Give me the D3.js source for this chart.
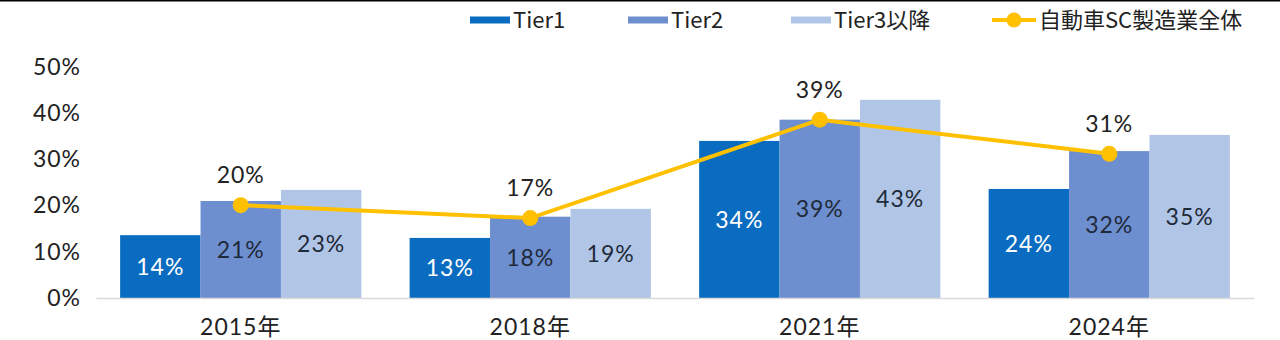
<!DOCTYPE html>
<html><head><meta charset="utf-8">
<script src="https://cdn.jsdelivr.net/npm/d3@7"></script>
<style>
html,body{margin:0;padding:0;background:#fff;}
svg{display:block;font-family:"Noto Sans CJK JP","Noto Sans",sans-serif;}
</style></head>
<body><svg id="c" width="1280" height="340"></svg>
<script>
const categories = ["2015年","2018年","2021年","2024年"];
const seriesNames = ["Tier1","Tier2","Tier3以降"];
const tier1 = [13.6, 13.0, 34.0, 23.6];
const tier2 = [21.0, 17.6, 38.6, 31.8];
const tier3 = [23.4, 19.3, 42.9, 35.3];
const lineName = "自動車SC製造業全体";
const total = [20.1, 17.3, 38.6, 31.2];
const yTicks = [0, 10, 20, 30, 40, 50];

const colors = ["#0A6CC0", "#6E8FCF", "#B1C6E6"];
const labelColors = ["#ffffff", "#1f2a3a", "#1f2a3a"];
const lineColor = "#FFC000";
const series = [tier1, tier2, tier3];
const numFont = "Lato, 'Noto Sans', sans-serif";
const numSize = 23;

const svg = d3.select("#c");
svg.append("line").attr("x1",0).attr("x2",1280).attr("y1",0.75).attr("y2",0.75)
  .attr("stroke","#000").attr("stroke-width",1.5);

const x = d3.scaleBand().domain(categories).range([96, 1254]).paddingInner(0.1667).paddingOuter(0.0833);
const xs = d3.scaleBand().domain(seriesNames).range([0, x.bandwidth()]);
const y = d3.scaleLinear().domain([0, 50]).range([298, 67]);

// y-axis labels
const yAxis = d3.axisLeft(y).tickValues(yTicks).tickFormat(d => d + "%").tickSize(0).tickPadding(0);
const ya = svg.append("g").attr("transform","translate(81,0)").call(yAxis);
ya.select(".domain").remove();
ya.selectAll("text").attr("font-size",numSize).attr("fill","#222").attr("letter-spacing","1px")
  .attr("font-family",numFont);

// bars
series.forEach((vals, si) => {
  const g = svg.append("g");
  g.selectAll("rect").data(vals).join("rect")
    .attr("x", (d,i) => x(categories[i]) + xs(seriesNames[si]))
    .attr("y", d => y(d))
    .attr("width", xs.bandwidth())
    .attr("height", d => y(0) - y(d))
    .attr("fill", colors[si]);
  g.selectAll("text").data(vals).join("text")
    .attr("x", (d,i) => x(categories[i]) + xs(seriesNames[si]) + xs.bandwidth()/2)
    .attr("y", d => (y(d) + y(0))/2)
    .attr("dy","0.36em")
    .attr("text-anchor","middle")
    .attr("font-size",numSize).attr("letter-spacing","1px")
    .attr("font-family",numFont)
    .attr("fill", labelColors[si])
    .text(d => Math.round(d) + "%");
});

// x-axis
const xAxis = d3.axisBottom(x).tickSize(0).tickPadding(21);
const xa = svg.append("g").attr("transform","translate(0,298)").call(xAxis);
xa.select(".domain").attr("stroke","#d9d9d9").attr("stroke-width",1.5);
xa.selectAll("text").attr("font-size",numSize).attr("fill","#222").attr("letter-spacing","1px")
  .attr("font-family","Lato, 'Noto Sans CJK JP', sans-serif");

// line
const cx = i => x(categories[i]) + x.bandwidth()/2;
const line = d3.line().x((d,i) => cx(i)).y(d => y(d));
svg.append("path").datum(total).attr("d", line).attr("fill","none")
  .attr("stroke", lineColor).attr("stroke-width",4);
svg.selectAll(".dot").data(total).join("circle").attr("class","dot")
  .attr("cx",(d,i)=>cx(i)).attr("cy",d=>y(d)).attr("r",8).attr("fill",lineColor);
svg.selectAll(".tl").data(total).join("text").attr("class","tl")
  .attr("x",(d,i)=>cx(i)).attr("y",d=>y(d)-30).attr("dy","0.36em")
  .attr("text-anchor","middle").attr("font-size",numSize).attr("letter-spacing","1px")
  .attr("font-family",numFont).attr("fill","#222")
  .text(d => Math.round(d) + "%");

// legend
const leg = svg.append("g");
const legItems = [
  {name: seriesNames[0], color: colors[0], x: 470, type: "bar"},
  {name: seriesNames[1], color: colors[1], x: 628, type: "bar"},
  {name: seriesNames[2], color: colors[2], x: 791, type: "bar"},
  {name: lineName, color: lineColor, x: 992, type: "line"}
];
legItems.forEach(it => {
  const g = leg.append("g").attr("transform", `translate(${it.x},20)`);
  if (it.type === "bar") {
    g.append("rect").attr("x",0).attr("y",-3.5).attr("width",40).attr("height",7).attr("fill",it.color);
  } else {
    g.append("line").attr("x1",0).attr("x2",44).attr("stroke",it.color).attr("stroke-width",4);
    g.append("circle").attr("cx",22).attr("r",7.5).attr("fill",it.color);
  }
  g.append("text").attr("x", it.type==="bar"?43:47).attr("dy","0.36em")
    .attr("font-size",22).attr("fill","#222")
    .attr("font-family","'Noto Sans CJK JP', sans-serif")
    .text(it.name);
});
</script></body></html>
